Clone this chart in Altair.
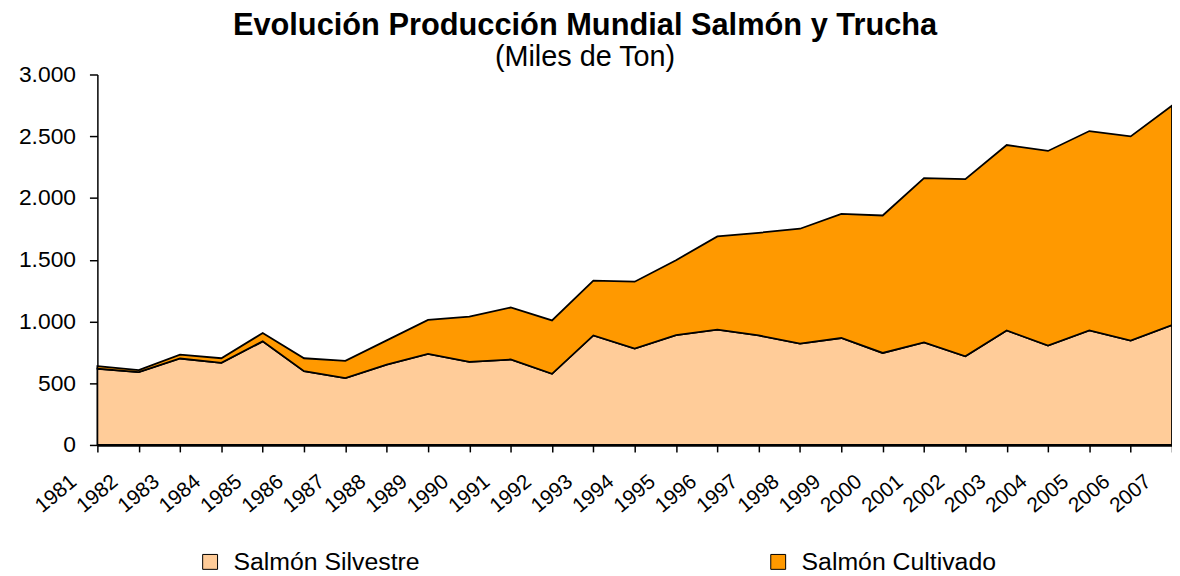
import altair as alt
import pandas as pd

years = list(range(1981, 2008))
silvestre = [617, 590, 700, 665, 839, 598, 541, 651, 737, 672, 692, 576, 887, 780, 890,
             933, 887, 820, 866, 745, 831, 718, 927, 804, 927, 845, 971]
total = [638, 606, 732, 702, 906, 702, 681, 847, 1013, 1040, 1113, 1008, 1330, 1322, 1496,
         1689, 1718, 1751, 1871, 1858, 2161, 2153, 2429, 2381, 2542, 2499, 2748]
cultivado = [t - s for t, s in zip(total, silvestre)]

series = ["Salmón Silvestre", "Salmón Cultivado"]
colors = ["#FFCC99", "#FF9900"]
y_ticks = [0, 500, 1000, 1500, 2000, 2500, 3000]

rows = []
for i, yr in enumerate(years):
    rows.append({"year": yr, "serie": series[0], "valor": silvestre[i], "ord": 0})
    rows.append({"year": yr, "serie": series[1], "valor": cultivado[i], "ord": 1})
df = pd.DataFrame(rows)

chart = alt.Chart(df).mark_area(
    stroke="black", strokeWidth=1.8, strokeJoin="miter", opacity=1
).encode(
    x=alt.X("year:Q",
            scale=alt.Scale(domain=[1981, 2007], nice=False, zero=False),
            axis=alt.Axis(values=years, format="d", title=None, labelAngle=-40,
                          labelAlign="right", labelBaseline="middle", labelFontSize=21,
                          labelPadding=27, labelOffset=-24, tickSize=7, domainWidth=2.5,
                          tickWidth=1.5, grid=False, labelOverlap=False, labelBound=False,
                          labelFlush=False)),
    y=alt.Y("valor:Q", stack="zero",
            scale=alt.Scale(domain=[0, 3000], nice=False),
            axis=alt.Axis(values=y_ticks, title=None, grid=False, labelFontSize=23,
                          tickSize=8, labelPadding=14, domainWidth=1.5, tickWidth=1.5,
                          labelExpr="replace(format(datum.value, ','), ',', '.')")),
    color=alt.Color("serie:N",
                    scale=alt.Scale(domain=series, range=colors),
                    legend=alt.Legend(title=None, orient="none", direction="horizontal",
                                      legendX=101, legendY=478, symbolType="square",
                                      symbolSize=225, symbolStrokeColor="black",
                                      symbolStrokeWidth=1, labelFontSize=25,
                                      labelOffset=11, columnPadding=348, padding=0,
                                      labelLimit=0, labelColor="black")),
    order=alt.Order("ord:Q"),
).properties(
    width=1082,
    height=373,
    autosize=alt.AutoSizeParams(type="none"),
    padding={"left": 90, "top": 65, "right": 0, "bottom": 130},
    title=alt.TitleParams(
        text="Evolución Producción Mundial Salmón y Trucha",
        subtitle="(Miles de Ton)",
        fontSize=31, fontWeight="bold", color="black",
        subtitleFontSize=29, subtitleColor="black", subtitleFontWeight="normal",
        anchor="middle", dx=-50, offset=-9, subtitlePadding=1,
    ),
).configure(
    font="Liberation Sans"
).configure_view(
    stroke=None
).configure_axis(
    domainColor="black", tickColor="black", labelColor="black"
)

chart.save("out.html", embed_options={"renderer": "svg", "actions": False})
